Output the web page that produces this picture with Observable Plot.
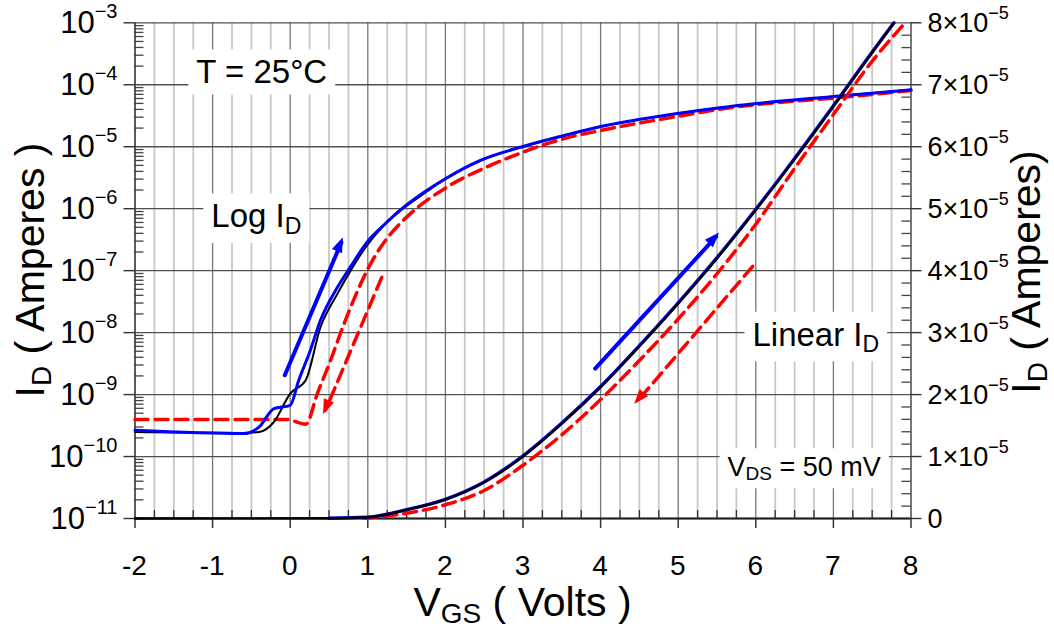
<!DOCTYPE html>
<html>
<head>
<meta charset="utf-8">
<script src="https://cdn.jsdelivr.net/npm/d3@7"></script>
<script src="https://cdn.jsdelivr.net/npm/@observablehq/plot@0.6"></script>
<style>
  html, body { margin: 0; padding: 0; background: #fff; }
  #chart { position: relative; width: 1054px; height: 630px; overflow: hidden;
           font-family: "Liberation Sans", Arial, sans-serif; }
  #chart svg { position: absolute; left: 0; top: 0; }
  #chart text { white-space: pre; }
</style>
</head>
<body>
<div id="chart"></div>
<script>
// ---- Transfer characteristics, VDS = 50 mV, T = 25 °C ----

// Log-scale drain current (A) vs gate voltage (V)
const vgsLogBlack = [-2, -0.6, -0.4, -0.21, 0.0, 0.2, 0.39, 0.61, 0.78, 0.99, 1.2, 1.42, 1.72, 2.02, 2.45, 3.0, 3.53, 4.0, 4.82, 5.67, 7.0, 8.0];
const idLogBlack  = [2.49e-10, 2.40e-10, 2.49e-10, 3.61e-10, 1.04e-9, 1.70e-9, 1.22e-8, 4.26e-8, 1.01e-7, 2.56e-7, 5.25e-7, 9.3e-7, 1.74e-6, 3.1e-6, 5.9e-6, 1.0e-5, 1.5e-5, 2.1e-5, 3.18e-5, 4.45e-5, 6.45e-5, 8.28e-5];

const vgsLogBlue = [-2, -0.6, -0.4, -0.21, 0.0, 0.11, 0.26, 0.39, 0.61, 0.78, 0.99, 1.21, 1.42, 1.72, 2.02, 2.45, 3.0, 3.53, 4.0, 4.82, 5.67, 7.0, 8.0];
const idLogBlue  = [2.65e-10, 2.35e-10, 3.0e-10, 5.94e-10, 6.71e-10, 1.70e-9, 5.19e-9, 1.58e-8, 5.43e-8, 1.17e-7, 2.89e-7, 5.5e-7, 9.55e-7, 1.82e-6, 3.16e-6, 6.03e-6, 1.01e-5, 1.52e-5, 2.12e-5, 3.20e-5, 4.47e-5, 6.47e-5, 8.30e-5];

const vgsLogRed = [-2, -0.04, 0.2, 0.35, 0.52, 0.69, 0.86, 0.99, 1.15, 1.3, 1.55, 2.02, 2.58, 3.0, 3.53, 4.0, 4.82, 5.67, 7.22, 8.0];
const idLogRed  = [3.95e-10, 3.95e-10, 3.32e-10, 1.04e-9, 3.57e-9, 1.35e-8, 4.47e-8, 1.0e-7, 2.24e-7, 3.98e-7, 8.32e-7, 2.23e-6, 4.99e-6, 8.18e-6, 1.35e-5, 1.83e-5, 2.83e-5, 4.26e-5, 6.46e-5, 8.09e-5];

// Linear-scale drain current (A) vs gate voltage (V)
const vgsLinBlack = [-2, 0.5, 1.0, 1.5, 2.0, 2.5, 3.0, 3.5, 4.0, 4.5, 5.0, 5.5, 6.0, 6.5, 7.0, 7.5, 7.78];
const idLinBlack  = [0, 5e-8, 2.1e-7, 1.4e-6, 3.07e-6, 5.86e-6, 1.0e-5, 1.53e-5, 2.12e-5, 2.78e-5, 3.47e-5, 4.2e-5, 4.98e-5, 5.8e-5, 6.65e-5, 7.52e-5, 8.0e-5];

const vgsLinBlue = [0.5, 1.0, 1.5, 2.0, 2.5, 3.0, 3.5, 4.0, 4.5, 5.0, 5.5, 6.0, 6.5, 7.0, 7.5, 7.78];
const idLinBlue  = [5e-8, 2.2e-7, 1.42e-6, 3.1e-6, 5.9e-6, 1.01e-5, 1.54e-5, 2.13e-5, 2.79e-5, 3.48e-5, 4.21e-5, 4.99e-5, 5.81e-5, 6.66e-5, 7.53e-5, 8.0e-5];

const vgsLinRed = [0.95, 1.5, 2.0, 2.5, 3.0, 3.5, 4.0, 4.5, 5.0, 5.5, 6.0, 6.5, 7.0, 7.5, 7.89];
const idLinRed  = [5e-8, 8.6e-7, 2.21e-6, 4.52e-6, 8.6e-6, 1.35e-5, 1.92e-5, 2.55e-5, 3.22e-5, 3.95e-5, 4.75e-5, 5.65e-5, 6.52e-5, 7.38e-5, 7.95e-5];

// Sweep-direction arrows: [start, end] as [VGS, ID]
const arrowLogUp   = [[-0.07, 2.05e-9], [0.66, 2.86e-7]];
const arrowLogDown = [[1.18, 7.8e-8], [0.455, 5.6e-10]];
const arrowLinUp   = [[3.93, 2.42e-5], [5.49, 4.55e-5]];
const arrowLinDown = [[5.96, 4.07e-5], [4.48, 1.9e-5]];

// Axis ticks
const vgsTicks  = [-2, -1, 0, 1, 2, 3, 4, 5, 6, 7, 8];
const vgsInner  = [-1, 0, 1, 2, 3, 4, 5, 6, 7];
const vgsMinor  = d3.range(-2, 8.001, 0.25).filter(v => !Number.isInteger(v));
const decades   = [1e-11, 1e-10, 1e-9, 1e-8, 1e-7, 1e-6, 1e-5, 1e-4, 1e-3];
const logMinor  = decades.slice(0, -1).flatMap(d => [2, 3, 4, 5, 6, 7, 8, 9].map(m => m * d));
const linTicks  = [0, 1e-5, 2e-5, 3e-5, 4e-5, 5e-5, 6e-5, 7e-5, 8e-5];
const linMinor  = d3.range(0, 40.5, 1).filter(k => k % 5 !== 0).map(k => k * 0.2e-5);

const FONT = '"Liberation Sans", Arial, sans-serif';
const RED = "#ff0000", BLUE = "#0000ff";
const DASH = "13,7";
const CURVE = "monotone-x";

const rows = (xs, ys) => xs.map((v, k) => ({v, i: ys[k]}));
const pts = a => a.map(([v, i]) => ({v, i}));

const W = 1054, H = 630;
const M = {left: 134.5, right: 143.5, top: 22.3, bottom: 112};
const plotW = W - M.left - M.right, plotH = H - M.top - M.bottom;
const xDomain = [-2, 8];
const logDomain = [1e-11, 1e-3];
const linDomain = [0, 8e-5];

// tick lengths expressed in data units of each scale
const vPerPx = (xDomain[1] - xDomain[0]) / plotW;
const decPerPx = Math.log10(logDomain[1] / logDomain[0]) / plotH;
const vIn = px => -2 + px * vPerPx, vOut = px => -2 - px * vPerPx;
const vRightIn = px => 8 - px * vPerPx, vRightOut = px => 8 + px * vPerPx;
const logUp = px => logDomain[0] * Math.pow(10, px * decPerPx);
const logDown = px => logDomain[0] * Math.pow(10, -px * decPerPx);

const base = {
  width: W, height: H,
  marginLeft: M.left, marginRight: M.right, marginTop: M.top, marginBottom: M.bottom,
  style: {background: "transparent", fontFamily: FONT, overflow: "visible", maxWidth: "none"}
};

// Grid, frame and bottom/left axis ticks
const gridLayer = Plot.plot({
  ...base,
  x: {domain: xDomain, axis: null},
  y: {type: "log", domain: logDomain, axis: null},
  marks: [
    Plot.ruleX(vgsMinor, {stroke: "#c8c8c8", strokeWidth: 1.8}),
    Plot.ruleX(vgsInner, {stroke: "#777", strokeWidth: 1.3}),
    Plot.ruleY(decades, {stroke: "#505050", strokeWidth: 1.3}),
    // left axis: minor ticks inside, decade ticks outside
    Plot.ruleY(logMinor, {x1: -2, x2: vIn(9), stroke: "#444", strokeWidth: 1.3}),
    Plot.ruleY(decades, {x1: vOut(11), x2: -2, stroke: "#333", strokeWidth: 1.4}),
    // bottom axis: quarter-volt ticks inside, volt ticks outside
    Plot.ruleX(vgsMinor, {y1: logDomain[0], y2: logUp(8), stroke: "#333", strokeWidth: 1.3}),
    Plot.ruleX(vgsTicks, {y1: logDown(10), y2: logDomain[0], stroke: "#333", strokeWidth: 1.5}),
    Plot.ruleX([-2], {stroke: "#333", strokeWidth: 1.6}),
    Plot.ruleX([8], {stroke: "#555", strokeWidth: 1.6}),
    Plot.ruleY([1e-11], {stroke: "#222", strokeWidth: 2})
  ]
});

// Log-scale curves
const logLayer = Plot.plot({
  ...base,
  x: {domain: xDomain, axis: null},
  y: {type: "log", domain: logDomain, axis: null},
  marks: [
    Plot.line(rows(vgsLogRed, idLogRed), {x: "v", y: "i", curve: CURVE, stroke: RED, strokeWidth: 3.5, strokeDasharray: DASH}),
    Plot.line(rows(vgsLogBlack, idLogBlack), {x: "v", y: "i", curve: CURVE, stroke: "#000", strokeWidth: 2}),
    Plot.line(rows(vgsLogBlue, idLogBlue), {x: "v", y: "i", curve: CURVE, stroke: BLUE, strokeWidth: 3}),
    Plot.line(pts(arrowLogUp), {x: "v", y: "i", stroke: BLUE, strokeWidth: 4}),
    Plot.line(pts(arrowLogDown), {x: "v", y: "i", stroke: RED, strokeWidth: 3.5, strokeDasharray: DASH})
  ]
});

// Linear-scale curves and right axis ticks
const linLayer = Plot.plot({
  ...base,
  x: {domain: xDomain, axis: null},
  y: {type: "linear", domain: linDomain, axis: null},
  marks: [
    Plot.ruleY(linMinor, {x1: vRightIn(9), x2: 8, stroke: "#444", strokeWidth: 1.3}),
    Plot.ruleY(linTicks, {x1: 8, x2: vRightOut(11), stroke: "#333", strokeWidth: 1.4}),
    Plot.line(rows(vgsLinRed, idLinRed), {x: "v", y: "i", curve: CURVE, stroke: RED, strokeWidth: 3.5, strokeDasharray: DASH}),
    Plot.line(rows(vgsLinBlue, idLinBlue), {x: "v", y: "i", curve: CURVE, stroke: BLUE, strokeWidth: 3.4}),
    Plot.line(rows(vgsLinBlack, idLinBlack), {x: "v", y: "i", curve: CURVE, stroke: "#000", strokeWidth: 2.4}),
    Plot.line(pts(arrowLinUp), {x: "v", y: "i", stroke: BLUE, strokeWidth: 4}),
    Plot.line(pts(arrowLinDown), {x: "v", y: "i", stroke: RED, strokeWidth: 3.5, strokeDasharray: DASH})
  ]
});

const chart = document.getElementById("chart");
chart.append(gridLayer, logLayer, linLayer);

const scaleFn = (plot, name) => {
  const s = plot.scale(name);
  if (s && typeof s.apply === "function") return v => s.apply(v);
  const f = (s.type === "log" ? d3.scaleLog() : d3.scaleLinear()).domain(s.domain).range(s.range);
  return v => f(v);
};
const sx = scaleFn(gridLayer, "x");
const syLog = scaleFn(gridLayer, "y");
const syLin = scaleFn(linLayer, "y");

// filled arrowheads at the end of each sweep arrow
function addHead(svg, sy, arrow, color) {
  const [a, b] = arrow;
  const x0 = sx(a[0]), y0 = sy(a[1]), x1 = sx(b[0]), y1 = sy(b[1]);
  const ang = Math.atan2(y1 - y0, x1 - x0) * 180 / Math.PI;
  svg.append("path")
    .attr("d", "M5,0L-10,-5.5L-10,5.5Z")
    .attr("fill", color)
    .attr("transform", `translate(${x1},${y1}) rotate(${ang})`);
}
const svgA = d3.select(gridLayer);
const svgB = d3.select(logLayer);
const svgC = d3.select(linLayer);
addHead(svgB, syLog, arrowLogUp, BLUE);
addHead(svgB, syLog, arrowLogDown, RED);
addHead(svgC, syLin, arrowLinUp, BLUE);
addHead(svgC, syLin, arrowLinDown, RED);

// text with super/subscript runs; off > 0 moves the run down
function richText(parent, parts, attrs) {
  const t = parent.append("text").attr("font-family", FONT).attr("fill", "#000");
  for (const [k, v] of Object.entries(attrs)) t.attr(k, v);
  let cur = 0;
  for (const p of parts) {
    const off = p.off || 0;
    t.append("tspan").attr("dy", off - cur).attr("font-size", p.size).text(p.t);
    cur = off;
  }
  return t;
}

// bottom tick labels
const gb = svgA.append("g");
for (const d of vgsTicks) {
  richText(gb, [{t: String(d), size: 28}], {x: sx(d), y: 575, "text-anchor": "middle"});
}

// left tick labels 10^-k
const gl = svgA.append("g");
for (const d of decades) {
  const k = Math.round(-Math.log10(d));
  richText(gl, [{t: "10", size: 31}, {t: "\u2212" + k, size: 20, off: -15}],
    {x: sx(-2) - 17, y: syLog(d) + 11, "text-anchor": "end"});
}

// right tick labels n×10^-5
const gr = svgC.append("g");
for (const d of linTicks) {
  const n = Math.round(d * 1e5);
  const parts = n === 0 ? [{t: "0", size: 27}]
    : [{t: n + "\u00d710", size: 27}, {t: "\u22125", size: 18, off: -13}];
  richText(gr, parts, {x: sx(8) + 17, y: syLin(d) + 9.6, "text-anchor": "start"});
}

// axis titles
const gt = svgA.append("g");
richText(gt, [{t: "V", size: 41}, {t: "GS", size: 28, off: 7}, {t: " ( Volts )", size: 41}],
  {x: (sx(-2) + sx(8)) / 2, y: 616, "text-anchor": "middle"});
richText(gt, [{t: "I", size: 41}, {t: "D", size: 28, off: 7}, {t: " ( Amperes )", size: 41}],
  {transform: "translate(44,270) rotate(-90)", "text-anchor": "middle"});
richText(gt, [{t: "I", size: 41}, {t: "D", size: 28, off: 7}, {t: " ( Amperes)", size: 41}],
  {transform: "translate(1040,272) rotate(-90)", "text-anchor": "middle"});

// boxed annotations (white boxes mask the grid)
const notes = [
  {v: -0.36, i: 1.6e-4, scale: "log", size: 33, parts: [{t: "T = 25\u00b0C", size: 33}]},
  {v: -0.43, i: 7.6e-7, scale: "log", size: 33, parts: [{t: "Log I", size: 33}, {t: "D", size: 23, off: 6.5}]},
  {v: 6.78, i: 2.97e-5, scale: "lin", size: 33, parts: [{t: "Linear I", size: 33}, {t: "D", size: 23, off: 6.5}]},
  {v: 6.63, i: 0.83e-5, scale: "lin", size: 27, parts: [{t: "V", size: 27}, {t: "DS", size: 19, off: 4}, {t: " = 50 mV", size: 27}]}
];
const ga = svgA.append("g");
for (const n of notes) {
  const g = ga.append("g");
  const yy = (n.scale === "log" ? syLog(n.i) : syLin(n.i)) + 0.358 * n.size;
  const t = richText(g, n.parts, {x: sx(n.v), y: yy, "text-anchor": "middle"});
  const b = t.node().getBBox();
  g.insert("rect", "text")
    .attr("x", b.x - 8).attr("y", b.y - 4)
    .attr("width", b.width + 16).attr("height", b.height + 8)
    .attr("fill", "#fff");
}
</script>
</body>
</html>
